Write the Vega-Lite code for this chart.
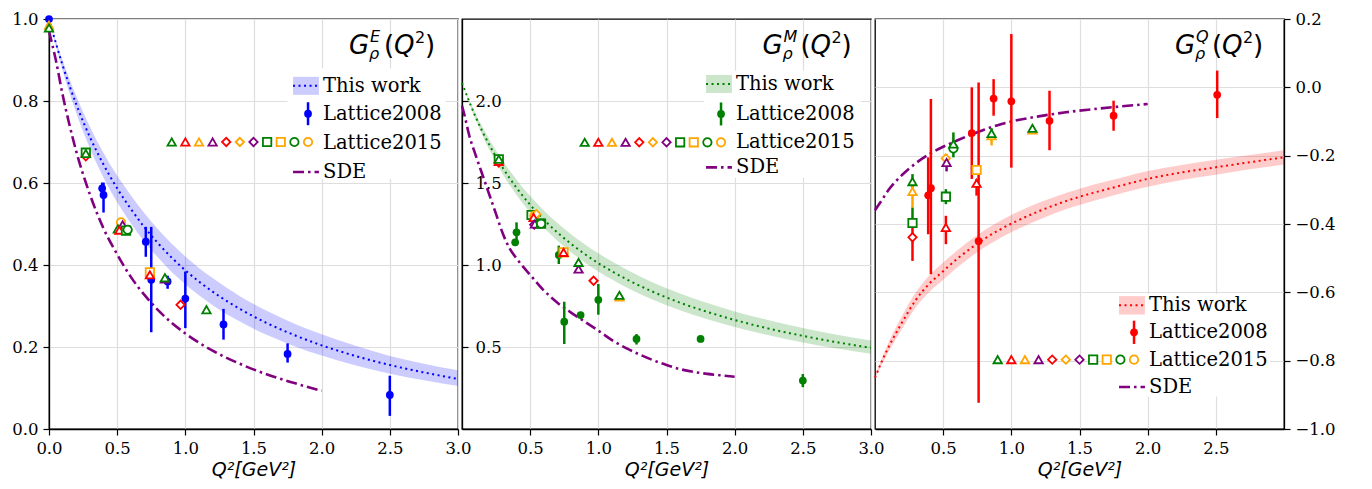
{
"$schema": "https://vega.github.io/schema/vega-lite/v6.json",
"background": "white",
"padding": {"left": 11, "top": 10, "right": 5, "bottom": 2},
"spacing": 4,
"bounds": "flush",
"datasets": {
"band1": [
{"q":0,"lo":1,"mid":1,"hi":1},{"q":0.1,"lo":0.874,"mid":0.887,"hi":0.899},{"q":0.2,"lo":0.771,"mid":0.792,"hi":0.812},{"q":0.3,"lo":0.685,"mid":0.712,"hi":0.737},{"q":0.4,"lo":0.613,"mid":0.645,"hi":0.673},{"q":0.5,"lo":0.553,"mid":0.587,"hi":0.618},{"q":0.6,"lo":0.502,"mid":0.537,"hi":0.570},{"q":0.7,"lo":0.457,"mid":0.492,"hi":0.526},{"q":0.8,"lo":0.418,"mid":0.453,"hi":0.487},{"q":0.9,"lo":0.383,"mid":0.418,"hi":0.452},{"q":1.0,"lo":0.353,"mid":0.387,"hi":0.421},{"q":1.2,"lo":0.302,"mid":0.335,"hi":0.368},{"q":1.4,"lo":0.262,"mid":0.293,"hi":0.324},{"q":1.6,"lo":0.229,"mid":0.258,"hi":0.288},{"q":1.8,"lo":0.202,"mid":0.229,"hi":0.257},{"q":2.0,"lo":0.179,"mid":0.204,"hi":0.231},{"q":2.25,"lo":0.155,"mid":0.178,"hi":0.203},{"q":2.5,"lo":0.135,"mid":0.156,"hi":0.178},{"q":2.75,"lo":0.119,"mid":0.138,"hi":0.159},{"q":3.0,"lo":0.105,"mid":0.122,"hi":0.143}
],
"sde1": [
{"q":0,"g":0.97},{"q":0.05,"g":0.90},{"q":0.1,"g":0.815},{"q":0.15,"g":0.742},{"q":0.2,"g":0.677},{"q":0.3,"g":0.572},{"q":0.4,"g":0.489},{"q":0.5,"g":0.426},{"q":0.6,"g":0.371},{"q":0.7,"g":0.327},{"q":0.8,"g":0.290},{"q":0.9,"g":0.259},{"q":1.0,"g":0.233},{"q":1.2,"g":0.191},{"q":1.4,"g":0.159},{"q":1.6,"g":0.133},{"q":1.8,"g":0.112},{"q":2.0,"g":0.093}
],
"lat08_1": [
{"q":0,"g":1.0,"lo":0.99,"hi":1.0},{"q":0.39,"g":0.587,"lo":0.573,"hi":0.601},{"q":0.40,"g":0.571,"lo":0.528,"hi":0.601},{"q":0.71,"g":0.457,"lo":0.420,"hi":0.493},{"q":0.75,"g":0.364,"lo":0.236,"hi":0.493},{"q":0.87,"g":0.360,"lo":0.342,"hi":0.374},{"q":1.0,"g":0.318,"lo":0.246,"hi":0.384},{"q":1.28,"g":0.255,"lo":0.218,"hi":0.293},{"q":1.75,"g":0.183,"lo":0.162,"hi":0.209},{"q":2.50,"g":0.083,"lo":0.032,"hi":0.130}
],
"lat15_1": [
{"q":0,"g":0.985,"set":"t_o"},{"q":0,"g":0.978,"set":"t_g"},
{"q":0.27,"g":0.674,"set":"s_g"},{"q":0.27,"g":0.665,"set":"d_r"},{"q":0.27,"g":0.672,"set":"t_g"},
{"q":0.528,"g":0.504,"set":"c_o"},{"q":0.54,"g":0.498,"set":"t_p"},{"q":0.505,"g":0.488,"set":"t_g"},{"q":0.516,"g":0.485,"set":"t_r"},{"q":0.565,"g":0.484,"set":"s_g"},{"q":0.577,"g":0.486,"set":"c_g"},
{"q":0.74,"g":0.382,"set":"s_o"},{"q":0.74,"g":0.376,"set":"t_r"},
{"q":0.85,"g":0.366,"set":"t_p"},{"q":0.85,"g":0.369,"set":"t_g"},
{"q":0.965,"g":0.303,"set":"d_r"},
{"q":1.155,"g":0.291,"set":"t_g"}
],
"band2": [
{"q":0,"lo":2.11,"mid":2.11,"hi":2.11},{"q":0.1,"lo":1.884,"mid":1.903,"hi":1.923},{"q":0.2,"lo":1.702,"mid":1.733,"hi":1.767},{"q":0.3,"lo":1.552,"mid":1.591,"hi":1.634},{"q":0.4,"lo":1.427,"mid":1.471,"hi":1.520},{"q":0.5,"lo":1.320,"mid":1.367,"hi":1.420},{"q":0.6,"lo":1.228,"mid":1.277,"hi":1.333},{"q":0.7,"lo":1.148,"mid":1.198,"hi":1.256},{"q":0.8,"lo":1.078,"mid":1.129,"hi":1.188},{"q":0.9,"lo":1.016,"mid":1.067,"hi":1.126},{"q":1.0,"lo":0.960,"mid":1.011,"hi":1.071},{"q":1.2,"lo":0.866,"mid":0.916,"hi":0.975},{"q":1.4,"lo":0.788,"mid":0.837,"hi":0.894},{"q":1.6,"lo":0.724,"mid":0.770,"hi":0.826},{"q":1.8,"lo":0.669,"mid":0.714,"hi":0.768},{"q":2.0,"lo":0.622,"mid":0.665,"hi":0.717},{"q":2.25,"lo":0.571,"mid":0.612,"hi":0.663},{"q":2.5,"lo":0.528,"mid":0.568,"hi":0.616},{"q":2.75,"lo":0.491,"mid":0.529,"hi":0.575},{"q":3.0,"lo":0.459,"mid":0.495,"hi":0.539}
],
"sde2": [
{"q":0,"g":1.97},{"q":0.025,"g":1.89},{"q":0.05,"g":1.80},{"q":0.1,"g":1.67},{"q":0.15,"g":1.55},{"q":0.2,"g":1.43},{"q":0.25,"g":1.31},{"q":0.3,"g":1.19},{"q":0.35,"g":1.10},{"q":0.4,"g":1.04},{"q":0.5,"g":0.94},{"q":0.6,"g":0.845},{"q":0.7,"g":0.77},{"q":0.8,"g":0.71},{"q":0.9,"g":0.655},{"q":1.0,"g":0.60},{"q":1.1,"g":0.542},{"q":1.2,"g":0.495},{"q":1.3,"g":0.455},{"q":1.4,"g":0.42},{"q":1.5,"g":0.39},{"q":1.6,"g":0.365},{"q":1.7,"g":0.348},{"q":1.8,"g":0.336},{"q":1.9,"g":0.327},{"q":2.0,"g":0.319}
],
"lat08_2": [
{"q":0.39,"g":1.138,"lo":1.12,"hi":1.155},{"q":0.40,"g":1.199,"lo":1.138,"hi":1.26},{"q":0.71,"g":1.061,"lo":1.006,"hi":1.118},{"q":0.75,"g":0.654,"lo":0.518,"hi":0.776},{"q":0.87,"g":0.695,"lo":0.68,"hi":0.71},{"q":1.0,"g":0.788,"lo":0.697,"hi":0.884},{"q":1.28,"g":0.549,"lo":0.515,"hi":0.579},{"q":1.75,"g":0.549,"lo":0.535,"hi":0.563},{"q":2.50,"g":0.295,"lo":0.255,"hi":0.335}
],
"lat15_2": [
{"q":0.27,"g":1.645,"set":"s_g"},{"q":0.27,"g":1.625,"set":"d_r"},{"q":0.27,"g":1.632,"set":"t_r"},{"q":0.27,"g":1.645,"set":"t_g"},
{"q":0.51,"g":1.305,"set":"s_g"},{"q":0.53,"g":1.30,"set":"c_o"},{"q":0.545,"g":1.31,"set":"d_o"},{"q":0.525,"g":1.29,"set":"t_r"},{"q":0.53,"g":1.246,"set":"d_p"},{"q":0.535,"g":1.25,"set":"t_p"},{"q":0.58,"g":1.252,"set":"s_g"},{"q":0.58,"g":1.252,"set":"c_g"},
{"q":0.745,"g":1.077,"set":"s_o"},{"q":0.745,"g":1.077,"set":"t_r"},
{"q":0.855,"g":0.975,"set":"t_p"},{"q":0.855,"g":1.016,"set":"t_g"},
{"q":0.965,"g":0.904,"set":"d_r"},
{"q":1.155,"g":0.805,"set":"t_o"},{"q":1.155,"g":0.815,"set":"t_g"}
],
"band3": [
{"q":0,"lo":-0.854,"mid":-0.850,"hi":-0.846},{"q":0.05,"lo":-0.811,"mid":-0.802,"hi":-0.793},{"q":0.1,"lo":-0.774,"mid":-0.760,"hi":-0.746},{"q":0.2,"lo":-0.706,"mid":-0.687,"hi":-0.668},{"q":0.3,"lo":-0.644,"mid":-0.622,"hi":-0.600},{"q":0.4,"lo":-0.598,"mid":-0.574,"hi":-0.550},{"q":0.5,"lo":-0.563,"mid":-0.538,"hi":-0.513},{"q":0.6,"lo":-0.528,"mid":-0.503,"hi":-0.478},{"q":0.7,"lo":-0.497,"mid":-0.472,"hi":-0.447},{"q":0.8,"lo":-0.469,"mid":-0.444,"hi":-0.419},{"q":0.9,"lo":-0.445,"mid":-0.420,"hi":-0.395},{"q":1.0,"lo":-0.424,"mid":-0.399,"hi":-0.374},{"q":1.2,"lo":-0.388,"mid":-0.363,"hi":-0.338},{"q":1.4,"lo":-0.357,"mid":-0.333,"hi":-0.309},{"q":1.6,"lo":-0.333,"mid":-0.309,"hi":-0.285},{"q":1.8,"lo":-0.311,"mid":-0.288,"hi":-0.265},{"q":2.0,"lo":-0.291,"mid":-0.268,"hi":-0.245},{"q":2.25,"lo":-0.271,"mid":-0.249,"hi":-0.227},{"q":2.5,"lo":-0.256,"mid":-0.234,"hi":-0.212},{"q":2.75,"lo":-0.240,"mid":-0.219,"hi":-0.198},{"q":3.0,"lo":-0.226,"mid":-0.205,"hi":-0.184}
],
"sde3": [
{"q":0,"g":-0.36},{"q":0.05,"g":-0.33},{"q":0.1,"g":-0.30},{"q":0.2,"g":-0.256},{"q":0.3,"g":-0.222},{"q":0.4,"g":-0.195},{"q":0.5,"g":-0.174},{"q":0.6,"g":-0.156},{"q":0.7,"g":-0.139},{"q":0.8,"g":-0.124},{"q":0.9,"g":-0.111},{"q":1.0,"g":-0.100},{"q":1.2,"g":-0.085},{"q":1.4,"g":-0.073},{"q":1.6,"g":-0.064},{"q":1.8,"g":-0.056},{"q":2.0,"g":-0.049}
],
"lat08_3": [
{"q":0.39,"g":-0.316,"lo":-0.430,"hi":-0.205},{"q":0.41,"g":-0.295,"lo":-0.547,"hi":-0.034},{"q":0.71,"g":-0.134,"lo":-0.268,"hi":0.0},{"q":0.76,"g":-0.450,"lo":-0.923,"hi":0.014},{"q":0.87,"g":-0.033,"lo":-0.083,"hi":0.024},{"q":1.0,"g":-0.041,"lo":-0.235,"hi":0.156},{"q":1.28,"g":-0.098,"lo":-0.184,"hi":-0.010},{"q":1.75,"g":-0.083,"lo":-0.127,"hi":-0.039},{"q":2.51,"g":-0.022,"lo":-0.090,"hi":0.049}
],
"lat15_3": [
{"q":0.275,"g":-0.276,"lo":-0.293,"hi":-0.254,"set":"t_g"},{"q":0.275,"g":-0.305,"lo":-0.352,"hi":-0.290,"set":"t_o"},{"q":0.275,"g":-0.397,"lo":-0.41,"hi":-0.352,"set":"s_g"},{"q":0.275,"g":-0.439,"lo":-0.508,"hi":-0.41,"set":"d_r"},
{"q":0.52,"g":-0.208,"lo":-0.22,"hi":-0.195,"set":"d_o"},{"q":0.525,"g":-0.220,"lo":-0.246,"hi":-0.197,"set":"t_p"},{"q":0.575,"g":-0.179,"lo":-0.19,"hi":-0.168,"set":"c_g"},{"q":0.575,"g":-0.166,"lo":-0.205,"hi":-0.132,"set":"t_g"},{"q":0.52,"g":-0.320,"lo":-0.342,"hi":-0.298,"set":"s_g"},{"q":0.52,"g":-0.410,"lo":-0.459,"hi":-0.376,"set":"t_r"},
{"q":0.745,"g":-0.242,"lo":-0.255,"hi":-0.23,"set":"s_o"},{"q":0.745,"g":-0.281,"lo":-0.317,"hi":-0.268,"set":"t_r"},
{"q":0.855,"g":-0.142,"lo":-0.17,"hi":-0.14,"set":"t_o"},{"q":0.855,"g":-0.135,"lo":-0.15,"hi":-0.12,"set":"t_g"},
{"q":1.155,"g":-0.125,"lo":-0.135,"hi":-0.12,"set":"t_o"},{"q":1.155,"g":-0.120,"lo":-0.13,"hi":-0.11,"set":"t_g"}
],
"leg15": [
{"q":0.9,"set":"t_g"},{"q":1.0,"set":"t_r"},{"q":1.1,"set":"t_o"},{"q":1.2,"set":"t_p"},{"q":1.3,"set":"d_r"},{"q":1.4,"set":"d_o"},{"q":1.5,"set":"d_p"},{"q":1.6,"set":"s_g"},{"q":1.7,"set":"s_o"},{"q":1.8,"set":"c_g"},{"q":1.9,"set":"c_o"}
]
},
"hconcat": [
{
"width": 409, "height": 410,
"layer": [
{"data":{"name":"band1"},"mark":{"type":"area","color":"#0000ff","opacity":0.2,"interpolate":"monotone"},
 "encoding":{"x":{"field":"q","type":"quantitative","scale":{"domain":[0,3],"nice":false,"zero":false},"axis":{"values":[0,0.5,1,1.5,2,2.5,3],"format":".1f","title":"Q²[GeV²]","labelFlush":false,"labelOverlap":false}},
 "y":{"field":"lo","type":"quantitative","scale":{"domain":[0,1],"nice":false},"axis":{"values":[0,0.2,0.4,0.6,0.8,1.0],"format":".1f","title":null,"labelOverlap":false}},"y2":{"field":"hi"}}},
{"data":{"name":"band1"},"mark":{"type":"line","color":"#0000ff","strokeWidth":2,"strokeDash":[2,3.5],"interpolate":"monotone"},"encoding":{"x":{"field":"q","type":"quantitative"},"y":{"field":"mid","type":"quantitative"}}},
{"data":{"name":"sde1"},"mark":{"type":"line","color":"#800080","strokeWidth":2.6,"strokeDash":[11,4,2.5,4],"interpolate":"monotone"},"encoding":{"x":{"field":"q","type":"quantitative"},"y":{"field":"g","type":"quantitative"}}},
{"data":{"name":"lat08_1"},"mark":{"type":"rule","color":"#0000ff","strokeWidth":2.5},"encoding":{"x":{"field":"q","type":"quantitative"},"y":{"field":"lo","type":"quantitative"},"y2":{"field":"hi"}}},
{"data":{"name":"lat08_1"},"mark":{"type":"circle","color":"#0000ff","size":60,"opacity":1},"encoding":{"x":{"field":"q","type":"quantitative"},"y":{"field":"g","type":"quantitative"}}},
{"data":{"name":"lat15_1"},"mark":{"type":"point","fill":"white","fillOpacity":1,"strokeWidth":1.8,"opacity":1},
 "encoding":{"x":{"field":"q","type":"quantitative"},"y":{"field":"g","type":"quantitative"},
 "stroke":{"field":"set","type":"nominal","legend":null,"scale":{"domain":["t_g","t_r","t_o","t_p","d_r","d_o","d_p","s_g","s_o","c_g","c_o"],"range":["#008000","#ff0000","#ffa500","#800080","#ff0000","#ffa500","#800080","#008000","#ffa500","#008000","#ffa500"]}},
 "shape":{"field":"set","type":"nominal","legend":null,"scale":{"domain":["t_g","t_r","t_o","t_p","d_r","d_o","d_p","s_g","s_o","c_g","c_o"],"range":["triangle-up","triangle-up","triangle-up","triangle-up","diamond","diamond","diamond","square","square","circle","circle"]}},
 "size":{"field":"set","type":"nominal","legend":null,"scale":{"domain":["t_g","t_r","t_o","t_p","d_r","d_o","d_p","s_g","s_o","c_g","c_o"],"range":[70,70,70,70,110,110,110,60,60,60,60]}}}},
{"data":{"values":[{}]},"layer":[
 {"mark":{"type":"rect","fill":"white","strokeWidth":0},"encoding":{"x":{"datum":1.75,"type":"quantitative"},"x2":{"datum":2.91},"y":{"datum":0.879,"type":"quantitative"},"y2":{"datum":0.61}}},
 {"mark":{"type":"rect","fill":"#0000ff","opacity":0.2},"encoding":{"x":{"datum":1.79,"type":"quantitative"},"x2":{"datum":1.98},"y":{"datum":0.859,"type":"quantitative"},"y2":{"datum":0.815}}},
 {"mark":{"type":"rule","color":"#0000ff","strokeWidth":2,"strokeDash":[2,3.5]},"encoding":{"x":{"datum":1.79,"type":"quantitative"},"x2":{"datum":1.98},"y":{"datum":0.837,"type":"quantitative"}}},
 {"mark":{"type":"rule","color":"#0000ff","strokeWidth":2.5},"encoding":{"x":{"datum":1.9,"type":"quantitative"},"y":{"datum":0.741,"type":"quantitative"},"y2":{"datum":0.797}}},
 {"mark":{"type":"circle","color":"#0000ff","size":60,"opacity":1},"encoding":{"x":{"datum":1.9,"type":"quantitative"},"y":{"datum":0.769,"type":"quantitative"}}},
 {"mark":{"type":"rule","color":"#800080","strokeWidth":2.6,"strokeDash":[11,4,2.5,4]},"encoding":{"x":{"datum":1.79,"type":"quantitative"},"x2":{"datum":1.98},"y":{"datum":0.627,"type":"quantitative"}}},
 {"data":{"name":"leg15"},"mark":{"type":"point","fill":"white","fillOpacity":1,"strokeWidth":1.8,"opacity":1},
  "encoding":{"x":{"field":"q","type":"quantitative"},"y":{"datum":0.70,"type":"quantitative"},
  "stroke":{"field":"set","type":"nominal","legend":null,"scale":{"domain":["t_g","t_r","t_o","t_p","d_r","d_o","d_p","s_g","s_o","c_g","c_o"],"range":["#008000","#ff0000","#ffa500","#800080","#ff0000","#ffa500","#800080","#008000","#ffa500","#008000","#ffa500"]}},
  "shape":{"field":"set","type":"nominal","legend":null,"scale":{"domain":["t_g","t_r","t_o","t_p","d_r","d_o","d_p","s_g","s_o","c_g","c_o"],"range":["triangle-up","triangle-up","triangle-up","triangle-up","diamond","diamond","diamond","square","square","circle","circle"]}},
  "size":{"field":"set","type":"nominal","legend":null,"scale":{"domain":["t_g","t_r","t_o","t_p","d_r","d_o","d_p","s_g","s_o","c_g","c_o"],"range":[70,70,70,70,110,110,110,60,60,60,60]}}}},
 {"mark":{"type":"text","text":"This work","font":"DejaVu Serif, Liberation Serif, serif","fontSize":19.5,"align":"left","baseline":"middle","color":"#000"},"encoding":{"x":{"datum":2.01,"type":"quantitative"},"y":{"datum":0.837,"type":"quantitative"}}},
 {"mark":{"type":"text","text":"Lattice2008","font":"DejaVu Serif, Liberation Serif, serif","fontSize":19.5,"align":"left","baseline":"middle","color":"#000"},"encoding":{"x":{"datum":2.01,"type":"quantitative"},"y":{"datum":0.768,"type":"quantitative"}}},
 {"mark":{"type":"text","text":"Lattice2015","font":"DejaVu Serif, Liberation Serif, serif","fontSize":19.5,"align":"left","baseline":"middle","color":"#000"},"encoding":{"x":{"datum":2.01,"type":"quantitative"},"y":{"datum":0.698,"type":"quantitative"}}},
 {"mark":{"type":"text","text":"SDE","font":"DejaVu Serif, Liberation Serif, serif","fontSize":19.5,"align":"left","baseline":"middle","color":"#000"},"encoding":{"x":{"datum":2.01,"type":"quantitative"},"y":{"datum":0.627,"type":"quantitative"}}}
]},
{"data":{"values":[{}]},"encoding":{"x":{"datum":2.2,"type":"quantitative"},"y":{"datum":0.915,"type":"quantitative"}},"layer":[
 {"mark":{"type":"text","text":"G","font":"DejaVu Sans","fontStyle":"italic","fontSize":26,"align":"left","baseline":"alphabetic","color":"#000"}},
 {"mark":{"type":"text","text":"E","font":"DejaVu Sans","fontStyle":"italic","fontSize":16,"align":"left","baseline":"alphabetic","dx":21,"dy":-12,"color":"#000"}},
 {"mark":{"type":"text","text":"ρ","font":"DejaVu Sans","fontStyle":"italic","fontSize":16,"align":"left","baseline":"alphabetic","dx":20,"dy":5,"color":"#000"}},
 {"mark":{"type":"text","text":"(","font":"DejaVu Sans","fontSize":26,"align":"left","baseline":"alphabetic","dx":35,"color":"#000"}},
 {"mark":{"type":"text","text":"Q","font":"DejaVu Sans","fontStyle":"italic","fontSize":26,"align":"left","baseline":"alphabetic","dx":45,"color":"#000"}},
 {"mark":{"type":"text","text":"2","font":"DejaVu Sans","fontSize":16,"align":"left","baseline":"alphabetic","dx":66,"dy":-11,"color":"#000"}},
 {"mark":{"type":"text","text":")","font":"DejaVu Sans","fontSize":26,"align":"left","baseline":"alphabetic","dx":76,"color":"#000"}}
]}
]
},
{
"width": 409, "height": 410,
"layer": [
{"data":{"name":"band2"},"mark":{"type":"area","color":"#008000","opacity":0.2,"interpolate":"monotone"},
 "encoding":{"x":{"field":"q","type":"quantitative","scale":{"domain":[0,3],"nice":false,"zero":false},"axis":{"values":[0.5,1,1.5,2,2.5,3],"format":".1f","title":"Q²[GeV²]","labelFlush":false,"labelOverlap":false}},
 "y":{"field":"lo","type":"quantitative","scale":{"domain":[0,2.5],"nice":false},"axis":{"values":[0.5,1,1.5,2],"format":".1f","title":null,"tickSize":-6,"labelPadding":-7,"labelAlign":"left","labelOverlap":false}},"y2":{"field":"hi"}}},
{"data":{"name":"band2"},"mark":{"type":"line","color":"#008000","strokeWidth":2,"strokeDash":[2,3.5],"interpolate":"monotone"},"encoding":{"x":{"field":"q","type":"quantitative"},"y":{"field":"mid","type":"quantitative"}}},
{"data":{"name":"sde2"},"mark":{"type":"line","color":"#800080","strokeWidth":2.6,"strokeDash":[11,4,2.5,4],"interpolate":"monotone"},"encoding":{"x":{"field":"q","type":"quantitative"},"y":{"field":"g","type":"quantitative"}}},
{"data":{"name":"lat08_2"},"mark":{"type":"rule","color":"#008000","strokeWidth":2.5},"encoding":{"x":{"field":"q","type":"quantitative"},"y":{"field":"lo","type":"quantitative"},"y2":{"field":"hi"}}},
{"data":{"name":"lat08_2"},"mark":{"type":"circle","color":"#008000","size":60,"opacity":1},"encoding":{"x":{"field":"q","type":"quantitative"},"y":{"field":"g","type":"quantitative"}}},
{"data":{"name":"lat15_2"},"mark":{"type":"point","fill":"white","fillOpacity":1,"strokeWidth":1.8,"opacity":1},
 "encoding":{"x":{"field":"q","type":"quantitative"},"y":{"field":"g","type":"quantitative"},
 "stroke":{"field":"set","type":"nominal","legend":null,"scale":{"domain":["t_g","t_r","t_o","t_p","d_r","d_o","d_p","s_g","s_o","c_g","c_o"],"range":["#008000","#ff0000","#ffa500","#800080","#ff0000","#ffa500","#800080","#008000","#ffa500","#008000","#ffa500"]}},
 "shape":{"field":"set","type":"nominal","legend":null,"scale":{"domain":["t_g","t_r","t_o","t_p","d_r","d_o","d_p","s_g","s_o","c_g","c_o"],"range":["triangle-up","triangle-up","triangle-up","triangle-up","diamond","diamond","diamond","square","square","circle","circle"]}},
 "size":{"field":"set","type":"nominal","legend":null,"scale":{"domain":["t_g","t_r","t_o","t_p","d_r","d_o","d_p","s_g","s_o","c_g","c_o"],"range":[70,70,70,70,110,110,110,60,60,60,60]}}}},
{"data":{"values":[{}]},"layer":[
 {"mark":{"type":"rect","fill":"white","strokeWidth":0},"encoding":{"x":{"datum":1.774,"type":"quantitative"},"x2":{"datum":2.925},"y":{"datum":2.185,"type":"quantitative"},"y2":{"datum":1.532}}},
 {"mark":{"type":"rect","fill":"#008000","opacity":0.2},"encoding":{"x":{"datum":1.79,"type":"quantitative"},"x2":{"datum":1.98},"y":{"datum":2.159,"type":"quantitative"},"y2":{"datum":2.049}}},
 {"mark":{"type":"rule","color":"#008000","strokeWidth":2,"strokeDash":[2,3.5]},"encoding":{"x":{"datum":1.79,"type":"quantitative"},"x2":{"datum":1.98},"y":{"datum":2.104,"type":"quantitative"}}},
 {"mark":{"type":"rule","color":"#008000","strokeWidth":2.5},"encoding":{"x":{"datum":1.9,"type":"quantitative"},"y":{"datum":1.851,"type":"quantitative"},"y2":{"datum":1.991}}},
 {"mark":{"type":"circle","color":"#008000","size":60,"opacity":1},"encoding":{"x":{"datum":1.9,"type":"quantitative"},"y":{"datum":1.921,"type":"quantitative"}}},
 {"mark":{"type":"rule","color":"#800080","strokeWidth":2.6,"strokeDash":[11,4,2.5,4]},"encoding":{"x":{"datum":1.79,"type":"quantitative"},"x2":{"datum":1.98},"y":{"datum":1.595,"type":"quantitative"}}},
 {"data":{"name":"leg15"},"mark":{"type":"point","fill":"white","fillOpacity":1,"strokeWidth":1.8,"opacity":1},
  "encoding":{"x":{"field":"q","type":"quantitative"},"y":{"datum":1.748,"type":"quantitative"},
  "stroke":{"field":"set","type":"nominal","legend":null,"scale":{"domain":["t_g","t_r","t_o","t_p","d_r","d_o","d_p","s_g","s_o","c_g","c_o"],"range":["#008000","#ff0000","#ffa500","#800080","#ff0000","#ffa500","#800080","#008000","#ffa500","#008000","#ffa500"]}},
  "shape":{"field":"set","type":"nominal","legend":null,"scale":{"domain":["t_g","t_r","t_o","t_p","d_r","d_o","d_p","s_g","s_o","c_g","c_o"],"range":["triangle-up","triangle-up","triangle-up","triangle-up","diamond","diamond","diamond","square","square","circle","circle"]}},
  "size":{"field":"set","type":"nominal","legend":null,"scale":{"domain":["t_g","t_r","t_o","t_p","d_r","d_o","d_p","s_g","s_o","c_g","c_o"],"range":[70,70,70,70,110,110,110,60,60,60,60]}}}},
 {"mark":{"type":"text","text":"This work","font":"DejaVu Serif, Liberation Serif, serif","fontSize":19.5,"align":"left","baseline":"middle","color":"#000"},"encoding":{"x":{"datum":2.01,"type":"quantitative"},"y":{"datum":2.104,"type":"quantitative"}}},
 {"mark":{"type":"text","text":"Lattice2008","font":"DejaVu Serif, Liberation Serif, serif","fontSize":19.5,"align":"left","baseline":"middle","color":"#000"},"encoding":{"x":{"datum":2.01,"type":"quantitative"},"y":{"datum":1.921,"type":"quantitative"}}},
 {"mark":{"type":"text","text":"Lattice2015","font":"DejaVu Serif, Liberation Serif, serif","fontSize":19.5,"align":"left","baseline":"middle","color":"#000"},"encoding":{"x":{"datum":2.01,"type":"quantitative"},"y":{"datum":1.748,"type":"quantitative"}}},
 {"mark":{"type":"text","text":"SDE","font":"DejaVu Serif, Liberation Serif, serif","fontSize":19.5,"align":"left","baseline":"middle","color":"#000"},"encoding":{"x":{"datum":2.01,"type":"quantitative"},"y":{"datum":1.595,"type":"quantitative"}}}
]},
{"data":{"values":[{}]},"encoding":{"x":{"datum":2.205,"type":"quantitative"},"y":{"datum":2.288,"type":"quantitative"}},"layer":[
 {"mark":{"type":"text","text":"G","font":"DejaVu Sans","fontStyle":"italic","fontSize":26,"align":"left","baseline":"alphabetic","color":"#000"}},
 {"mark":{"type":"text","text":"M","font":"DejaVu Sans","fontStyle":"italic","fontSize":16,"align":"left","baseline":"alphabetic","dx":21,"dy":-12,"color":"#000"}},
 {"mark":{"type":"text","text":"ρ","font":"DejaVu Sans","fontStyle":"italic","fontSize":16,"align":"left","baseline":"alphabetic","dx":20,"dy":5,"color":"#000"}},
 {"mark":{"type":"text","text":"(","font":"DejaVu Sans","fontSize":26,"align":"left","baseline":"alphabetic","dx":38,"color":"#000"}},
 {"mark":{"type":"text","text":"Q","font":"DejaVu Sans","fontStyle":"italic","fontSize":26,"align":"left","baseline":"alphabetic","dx":48,"color":"#000"}},
 {"mark":{"type":"text","text":"2","font":"DejaVu Sans","fontSize":16,"align":"left","baseline":"alphabetic","dx":69,"dy":-11,"color":"#000"}},
 {"mark":{"type":"text","text":")","font":"DejaVu Sans","fontSize":26,"align":"left","baseline":"alphabetic","dx":79,"color":"#000"}}
]}
]
},
{
"width": 409, "height": 410,
"layer": [
{"data":{"name":"band3"},"mark":{"type":"area","color":"#ff0000","opacity":0.2,"interpolate":"monotone"},
 "encoding":{"x":{"field":"q","type":"quantitative","scale":{"domain":[0,3],"nice":false,"zero":false},"axis":{"values":[0.5,1,1.5,2,2.5],"format":".1f","title":"Q²[GeV²]","labelFlush":false,"labelOverlap":false}},
 "y":{"field":"lo","type":"quantitative","scale":{"domain":[-1,0.2],"nice":false,"zero":false},"axis":{"orient":"right","values":[-1,-0.8,-0.6,-0.4,-0.2,0,0.2],"format":".1f","title":null,"labelOverlap":false}},"y2":{"field":"hi"}}},
{"data":{"name":"band3"},"mark":{"type":"line","color":"#ff0000","strokeWidth":2,"strokeDash":[2,3.5],"interpolate":"monotone"},"encoding":{"x":{"field":"q","type":"quantitative"},"y":{"field":"mid","type":"quantitative"}}},
{"data":{"name":"sde3"},"mark":{"type":"line","color":"#800080","strokeWidth":2.6,"strokeDash":[11,4,2.5,4],"interpolate":"monotone"},"encoding":{"x":{"field":"q","type":"quantitative"},"y":{"field":"g","type":"quantitative"}}},
{"data":{"name":"lat08_3"},"mark":{"type":"rule","color":"#ff0000","strokeWidth":2.5},"encoding":{"x":{"field":"q","type":"quantitative"},"y":{"field":"lo","type":"quantitative"},"y2":{"field":"hi"}}},
{"data":{"name":"lat08_3"},"mark":{"type":"circle","color":"#ff0000","size":60,"opacity":1},"encoding":{"x":{"field":"q","type":"quantitative"},"y":{"field":"g","type":"quantitative"}}},
{"data":{"name":"lat15_3"},"mark":{"type":"rule","strokeWidth":2.5},
 "encoding":{"x":{"field":"q","type":"quantitative"},"y":{"field":"lo","type":"quantitative"},"y2":{"field":"hi"},
 "stroke":{"field":"set","type":"nominal","legend":null,"scale":{"domain":["t_g","t_r","t_o","t_p","d_r","d_o","d_p","s_g","s_o","c_g","c_o"],"range":["#008000","#ff0000","#ffa500","#800080","#ff0000","#ffa500","#800080","#008000","#ffa500","#008000","#ffa500"]}}}},
{"data":{"name":"lat15_3"},"mark":{"type":"point","fill":"white","fillOpacity":1,"strokeWidth":1.8,"opacity":1},
 "encoding":{"x":{"field":"q","type":"quantitative"},"y":{"field":"g","type":"quantitative"},
 "stroke":{"field":"set","type":"nominal","legend":null,"scale":{"domain":["t_g","t_r","t_o","t_p","d_r","d_o","d_p","s_g","s_o","c_g","c_o"],"range":["#008000","#ff0000","#ffa500","#800080","#ff0000","#ffa500","#800080","#008000","#ffa500","#008000","#ffa500"]}},
 "shape":{"field":"set","type":"nominal","legend":null,"scale":{"domain":["t_g","t_r","t_o","t_p","d_r","d_o","d_p","s_g","s_o","c_g","c_o"],"range":["triangle-up","triangle-up","triangle-up","triangle-up","diamond","diamond","diamond","square","square","circle","circle"]}},
 "size":{"field":"set","type":"nominal","legend":null,"scale":{"domain":["t_g","t_r","t_o","t_p","d_r","d_o","d_p","s_g","s_o","c_g","c_o"],"range":[70,70,70,70,110,110,110,60,60,60,60]}}}},
{"data":{"values":[{}]},"layer":[
 {"mark":{"type":"rect","fill":"white","strokeWidth":0},"encoding":{"x":{"datum":1.75,"type":"quantitative"},"x2":{"datum":2.9},"y":{"datum":-0.605,"type":"quantitative"},"y2":{"datum":-0.905}}},
 {"mark":{"type":"rect","fill":"#ff0000","opacity":0.2},"encoding":{"x":{"datum":1.79,"type":"quantitative"},"x2":{"datum":1.98},"y":{"datum":-0.611,"type":"quantitative"},"y2":{"datum":-0.665}}},
 {"mark":{"type":"rule","color":"#ff0000","strokeWidth":2,"strokeDash":[2,3.5]},"encoding":{"x":{"datum":1.79,"type":"quantitative"},"x2":{"datum":1.98},"y":{"datum":-0.638,"type":"quantitative"}}},
 {"mark":{"type":"rule","color":"#ff0000","strokeWidth":2.5},"encoding":{"x":{"datum":1.9,"type":"quantitative"},"y":{"datum":-0.683,"type":"quantitative"},"y2":{"datum":-0.751}}},
 {"mark":{"type":"circle","color":"#ff0000","size":60,"opacity":1},"encoding":{"x":{"datum":1.9,"type":"quantitative"},"y":{"datum":-0.717,"type":"quantitative"}}},
 {"mark":{"type":"rule","color":"#800080","strokeWidth":2.6,"strokeDash":[11,4,2.5,4]},"encoding":{"x":{"datum":1.79,"type":"quantitative"},"x2":{"datum":1.98},"y":{"datum":-0.877,"type":"quantitative"}}},
 {"data":{"name":"leg15"},"mark":{"type":"point","fill":"white","fillOpacity":1,"strokeWidth":1.8,"opacity":1},
  "encoding":{"x":{"field":"q","type":"quantitative"},"y":{"datum":-0.797,"type":"quantitative"},
  "stroke":{"field":"set","type":"nominal","legend":null,"scale":{"domain":["t_g","t_r","t_o","t_p","d_r","d_o","d_p","s_g","s_o","c_g","c_o"],"range":["#008000","#ff0000","#ffa500","#800080","#ff0000","#ffa500","#800080","#008000","#ffa500","#008000","#ffa500"]}},
  "shape":{"field":"set","type":"nominal","legend":null,"scale":{"domain":["t_g","t_r","t_o","t_p","d_r","d_o","d_p","s_g","s_o","c_g","c_o"],"range":["triangle-up","triangle-up","triangle-up","triangle-up","diamond","diamond","diamond","square","square","circle","circle"]}},
  "size":{"field":"set","type":"nominal","legend":null,"scale":{"domain":["t_g","t_r","t_o","t_p","d_r","d_o","d_p","s_g","s_o","c_g","c_o"],"range":[70,70,70,70,110,110,110,60,60,60,60]}}}},
 {"mark":{"type":"text","text":"This work","font":"DejaVu Serif, Liberation Serif, serif","fontSize":19.5,"align":"left","baseline":"middle","color":"#000"},"encoding":{"x":{"datum":2.01,"type":"quantitative"},"y":{"datum":-0.638,"type":"quantitative"}}},
 {"mark":{"type":"text","text":"Lattice2008","font":"DejaVu Serif, Liberation Serif, serif","fontSize":19.5,"align":"left","baseline":"middle","color":"#000"},"encoding":{"x":{"datum":2.01,"type":"quantitative"},"y":{"datum":-0.717,"type":"quantitative"}}},
 {"mark":{"type":"text","text":"Lattice2015","font":"DejaVu Serif, Liberation Serif, serif","fontSize":19.5,"align":"left","baseline":"middle","color":"#000"},"encoding":{"x":{"datum":2.01,"type":"quantitative"},"y":{"datum":-0.797,"type":"quantitative"}}},
 {"mark":{"type":"text","text":"SDE","font":"DejaVu Serif, Liberation Serif, serif","fontSize":19.5,"align":"left","baseline":"middle","color":"#000"},"encoding":{"x":{"datum":2.01,"type":"quantitative"},"y":{"datum":-0.877,"type":"quantitative"}}}
]},
{"data":{"values":[{}]},"encoding":{"x":{"datum":2.201,"type":"quantitative"},"y":{"datum":0.098,"type":"quantitative"}},"layer":[
 {"mark":{"type":"text","text":"G","font":"DejaVu Sans","fontStyle":"italic","fontSize":26,"align":"left","baseline":"alphabetic","color":"#000"}},
 {"mark":{"type":"text","text":"Q","font":"DejaVu Sans","fontStyle":"italic","fontSize":16,"align":"left","baseline":"alphabetic","dx":21,"dy":-12,"color":"#000"}},
 {"mark":{"type":"text","text":"ρ","font":"DejaVu Sans","fontStyle":"italic","fontSize":16,"align":"left","baseline":"alphabetic","dx":20,"dy":5,"color":"#000"}},
 {"mark":{"type":"text","text":"(","font":"DejaVu Sans","fontSize":26,"align":"left","baseline":"alphabetic","dx":37,"color":"#000"}},
 {"mark":{"type":"text","text":"Q","font":"DejaVu Sans","fontStyle":"italic","fontSize":26,"align":"left","baseline":"alphabetic","dx":47,"color":"#000"}},
 {"mark":{"type":"text","text":"2","font":"DejaVu Sans","fontSize":16,"align":"left","baseline":"alphabetic","dx":68,"dy":-11,"color":"#000"}},
 {"mark":{"type":"text","text":")","font":"DejaVu Sans","fontSize":26,"align":"left","baseline":"alphabetic","dx":78,"color":"#000"}}
]}
]
}
],
"config": {
"view": {"stroke": "#000", "strokeWidth": 1.3},
"axis": {"labelFont": "DejaVu Serif, Liberation Serif, serif", "labelFontSize": 16.5, "labelColor": "#000", "domainColor": "#000", "domainWidth": 1.3, "tickColor": "#000", "tickWidth": 1.2, "tickSize": 6, "labelPadding": 5, "grid": true, "gridColor": "#dedede", "gridWidth": 1.2, "titleFont": "DejaVu Sans", "titleFontStyle": "italic", "titleFontWeight": "normal", "titleFontSize": 19, "titleColor": "#000", "titlePadding": 4}
}
}
